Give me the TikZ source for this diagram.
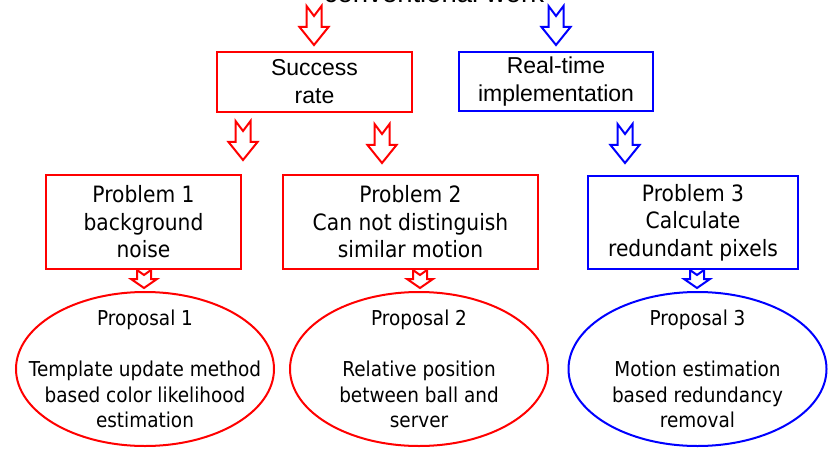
\documentclass[tikz,border=0pt]{standalone}
\usepackage{fontspec}
\setmainfont{Liberation Sans}
\newfontfamily\tah{DejaVu Sans}[FakeStretch=0.9]
\usetikzlibrary{shapes.geometric,calc}
\definecolor{pred}{RGB}{255,0,0}
\definecolor{pblue}{RGB}{0,0,255}
\newcommand\bigarrow[2]{%
  \begin{scope}[shift={#1}]
    \draw[#2,line width=2pt,line join=miter] (0,0) -- (-14.5,-18) -- (-7.5,-18) -- (-7.5,-39) -- (0,-29) -- (7.5,-39) -- (7.5,-18) -- (14.5,-18) -- cycle;
  \end{scope}}
\newcommand\smallarrow[2]{%
  \begin{scope}[shift={#1}]
    \draw[#2,line width=2pt,line join=miter] (0,0) -- (-13,-9) -- (-7,-9) -- (-7,-18) -- (0,-13) -- (7,-18) -- (7,-9) -- (13,-9) -- cycle;
  \end{scope}}
\tikzset{
  topbox/.style={draw,line width=2pt,inner sep=0pt,align=center,
    font=\fontsize{23}{28}\selectfont},
  probbox/.style={draw,line width=2pt,inner sep=0pt,align=center,
    font=\tah\fontsize{22.5}{27.5}\selectfont},
  propell/.style={draw,ellipse,line width=2pt,inner sep=0pt,
    minimum width=258pt,minimum height=154pt},
  proptext/.style={inner sep=0pt,align=center,text=black,
    font=\tah\fontsize{20.5}{25.5}\selectfont},
}
\begin{document}
\begin{tikzpicture}[x=1pt,y=-1pt]
\useasboundingbox (0,0) rectangle (829,449);
\clip (0,0) rectangle (829,449);
\node[anchor=base,font=\fontsize{27.5}{33}\selectfont] (conv) at (434,3) {conventional work};
% top boxes
\node[topbox,pred,text=black,minimum width=195pt,minimum height=60pt] (succ) at (314.5,82) {Success\\rate};
\node[topbox,pblue,text=black,minimum width=194pt,minimum height=59pt] (real) at (556,81.5) {Real-time\\implementation};
% problem boxes
\node[probbox,pred,text=black,minimum width=195pt,minimum height=94pt] (p1) at (143.5,222) {Problem 1\\background\\noise};
\node[probbox,pred,text=black,minimum width=255pt,minimum height=94pt] (p2) at (410.5,222) {Problem 2\\Can not distinguish\\similar motion};
\node[probbox,pblue,text=black,minimum width=210pt,minimum height=93pt] (p3) at (693,222.5) {Problem 3\\Calculate\\redundant pixels};
% proposals
\node[propell,pred] (e1) at (145,369) {};
\node[proptext] (t1) at (e1.center) {Proposal 1\\[25.5pt]Template update method\\based color likelihood\\estimation};
\node[propell,pred] (e2) at (419,369) {};
\node[proptext] (t2) at (e2.center) {Proposal 2\\[25.5pt]Relative position\\between ball and\\server};
\node[propell,pblue] (e3) at (697.5,369) {};
\node[proptext] (t3) at (e3.center) {Proposal 3\\[25.5pt]Motion estimation\\based redundancy\\removal};
% arrows
\bigarrow{($(succ.north)+(-0.5,-6)$)}{pred}
\bigarrow{($(real.north)+(0,-6)$)}{pblue}
\bigarrow{(243,160)}{pred}
\bigarrow{(382,163)}{pred}
\bigarrow{($(real.south)+(69,51)$)}{pblue}
\smallarrow{($(p1.south)+(0.5,18)$)}{pred}
\smallarrow{($(p2.south)+(9.5,18)$)}{pred}
\smallarrow{($(p3.south)+(4,18)$)}{pblue}
\end{tikzpicture}
\end{document}
